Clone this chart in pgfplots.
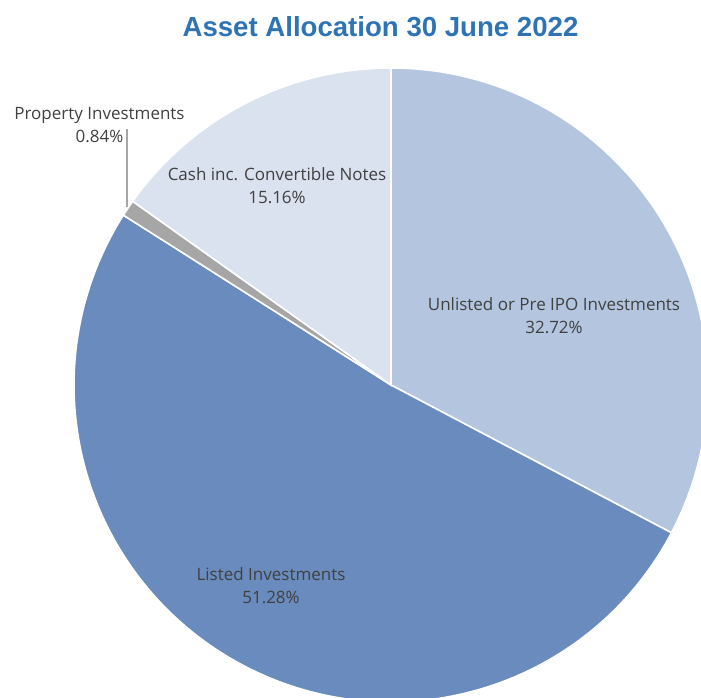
\documentclass[border=0pt]{standalone}
\usepackage{fontspec}
\setmainfont{Open Sans}
\newfontfamily\titlefont{Liberation Sans}
\usepackage{pgfplots}
\pgfplotsset{compat=1.18}
\definecolor{c_unlisted}{HTML}{B4C6DF}
\definecolor{c_listed}{HTML}{6A8BBD}
\definecolor{c_property}{HTML}{A6A6A6}
\definecolor{c_cash}{HTML}{DAE1EF}
\definecolor{c_text}{HTML}{404040}
\definecolor{c_title}{HTML}{2E74B5}

\begin{document}
\begin{tikzpicture}
% shares in percent, clockwise from 12 o'clock
\def\vUnlisted{32.72}
\def\vListed{51.28}
\def\vProperty{0.84}
\def\vCash{15.16}
\pgfmathsetmacro\aA{90}
\pgfmathsetmacro\aB{\aA-3.6*\vUnlisted}
\pgfmathsetmacro\aC{\aB-3.6*\vListed}
\pgfmathsetmacro\aD{\aC-3.6*\vProperty}
\pgfmathsetmacro\aE{\aD-3.6*\vCash}
\def\R{158.5pt}
\begin{axis}[
    width=350.5pt, height=348.5pt, scale only axis,
    xmin=0, xmax=701, ymin=0, ymax=697,
    hide axis, clip=true,
]
\path (rel axis cs:0,0) (rel axis cs:1,1);

\filldraw[fill=c_unlisted, draw=white, line width=0.8pt]
    (axis cs:391,312) -- ++(\aA:\R) arc[start angle=\aA, end angle=\aB, radius=\R] -- cycle;
\filldraw[fill=c_listed, draw=white, line width=0.8pt]
    (axis cs:391,312) -- ++(\aB:\R) arc[start angle=\aB, end angle=\aC, radius=\R] -- cycle;
\filldraw[fill=c_property, draw=white, line width=0.8pt]
    (axis cs:391,312) -- ++(\aC:\R) arc[start angle=\aC, end angle=\aD, radius=\R] -- cycle;
\filldraw[fill=c_cash, draw=white, line width=0.8pt]
    (axis cs:391,312) -- ++(\aD:\R) arc[start angle=\aD, end angle=\aE, radius=\R] -- cycle;

% leader line for the small slice
\draw[c_property, line width=0.6pt] (axis cs:127,568) -- (axis cs:127,490);

\node[font=\titlefont\bfseries\fontsize{13.8}{16}\selectfont, text=c_title] at (axis cs:380.5,670) {Asset Allocation 30 June 2022};

\tikzset{lbl/.style={font=\fontsize{8.5}{11.5}\selectfont, text=c_text, align=center}}
\node[lbl] at (axis cs:99.5,572) {Property Investments\\0.84\%};
\node[lbl] at (axis cs:277,511) {Cash inc. Convertible Notes\\15.16\%};
\node[lbl] at (axis cs:554,381) {Unlisted or Pre IPO Investments\\32.72\%};
\node[lbl] at (axis cs:271,111) {Listed Investments\\51.28\%};
\end{axis}
\end{tikzpicture}
\end{document}
